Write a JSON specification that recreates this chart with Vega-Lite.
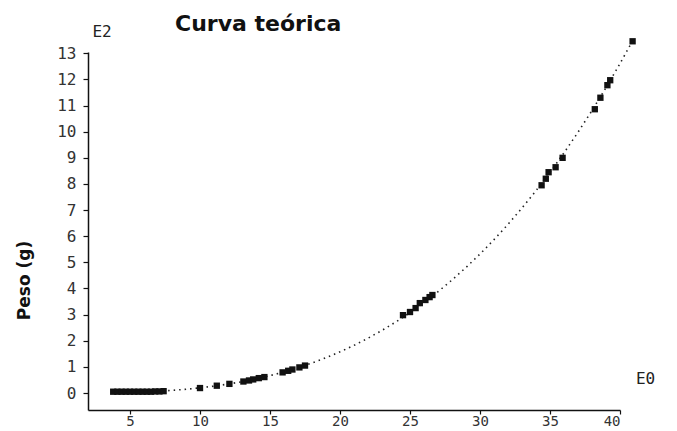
{
  "$schema": "https://vega.github.io/schema/vega-lite/v6.json",
  "width": 532,
  "height": 358,
  "autosize": "none",
  "padding": {"left": 88, "top": 52, "right": 57, "bottom": 21},
  "background": "white",
  "title": {
    "text": "Curva teórica",
    "anchor": "start",
    "frame": "group",
    "dx": 87,
    "offset": -12,
    "font": "DejaVu Sans",
    "fontSize": 22,
    "fontWeight": "bold",
    "color": "#111"
  },
  "config": {"view": {"stroke": null}},
  "datasets": {
    "curva": [
      {"longitud": 3.8, "peso": 0.0108},
      {"longitud": 4, "peso": 0.0126},
      {"longitud": 5, "peso": 0.0246},
      {"longitud": 6, "peso": 0.0426},
      {"longitud": 7, "peso": 0.0676},
      {"longitud": 8, "peso": 0.1009},
      {"longitud": 9, "peso": 0.1436},
      {"longitud": 10, "peso": 0.197},
      {"longitud": 11, "peso": 0.2622},
      {"longitud": 12, "peso": 0.3404},
      {"longitud": 13, "peso": 0.4328},
      {"longitud": 14, "peso": 0.5406},
      {"longitud": 15, "peso": 0.6649},
      {"longitud": 16, "peso": 0.8069},
      {"longitud": 17, "peso": 0.9679},
      {"longitud": 18, "peso": 1.1489},
      {"longitud": 19, "peso": 1.3512},
      {"longitud": 20, "peso": 1.576},
      {"longitud": 21, "peso": 1.8244},
      {"longitud": 22, "peso": 2.0977},
      {"longitud": 23, "peso": 2.3969},
      {"longitud": 24, "peso": 2.7233},
      {"longitud": 25, "peso": 3.0781},
      {"longitud": 26, "peso": 3.4625},
      {"longitud": 27, "peso": 3.8776},
      {"longitud": 28, "peso": 4.3245},
      {"longitud": 29, "peso": 4.8046},
      {"longitud": 30, "peso": 5.319},
      {"longitud": 31, "peso": 5.8688},
      {"longitud": 32, "peso": 6.4553},
      {"longitud": 33, "peso": 7.0796},
      {"longitud": 34, "peso": 7.7429},
      {"longitud": 35, "peso": 8.4464},
      {"longitud": 36, "peso": 9.1912},
      {"longitud": 37, "peso": 9.9786},
      {"longitud": 38, "peso": 10.8098},
      {"longitud": 39, "peso": 11.6858},
      {"longitud": 40, "peso": 12.608},
      {"longitud": 40.9, "peso": 13.48}
    ],
    "observados": [
      {"longitud": 3.8, "peso": 0.05},
      {"longitud": 4.1, "peso": 0.05},
      {"longitud": 4.4, "peso": 0.05},
      {"longitud": 4.7, "peso": 0.05},
      {"longitud": 5.0, "peso": 0.05},
      {"longitud": 5.3, "peso": 0.05},
      {"longitud": 5.6, "peso": 0.05},
      {"longitud": 5.9, "peso": 0.05},
      {"longitud": 6.2, "peso": 0.05},
      {"longitud": 6.5, "peso": 0.05},
      {"longitud": 6.8, "peso": 0.06},
      {"longitud": 7.1, "peso": 0.06},
      {"longitud": 7.4, "peso": 0.07},
      {"longitud": 10.0, "peso": 0.19},
      {"longitud": 11.2, "peso": 0.28},
      {"longitud": 12.1, "peso": 0.35},
      {"longitud": 13.1, "peso": 0.44},
      {"longitud": 13.5, "peso": 0.48},
      {"longitud": 13.8, "peso": 0.52},
      {"longitud": 14.2, "peso": 0.57},
      {"longitud": 14.6, "peso": 0.61},
      {"longitud": 15.9, "peso": 0.79},
      {"longitud": 16.3, "peso": 0.85},
      {"longitud": 16.6, "peso": 0.9},
      {"longitud": 17.1, "peso": 0.98},
      {"longitud": 17.5, "peso": 1.05},
      {"longitud": 24.5, "peso": 2.98},
      {"longitud": 25.0, "peso": 3.1},
      {"longitud": 25.4, "peso": 3.25},
      {"longitud": 25.7, "peso": 3.44},
      {"longitud": 26.1, "peso": 3.56},
      {"longitud": 26.4, "peso": 3.67},
      {"longitud": 26.6, "peso": 3.75},
      {"longitud": 34.4, "peso": 7.95},
      {"longitud": 34.7, "peso": 8.2},
      {"longitud": 34.9, "peso": 8.45},
      {"longitud": 35.4, "peso": 8.64},
      {"longitud": 35.9, "peso": 9.0},
      {"longitud": 38.2, "peso": 10.86},
      {"longitud": 38.6, "peso": 11.3},
      {"longitud": 39.1, "peso": 11.78},
      {"longitud": 39.3, "peso": 11.97},
      {"longitud": 40.9, "peso": 13.46}
    ],
    "exponentes": [
      {"longitud": 3.0, "peso": 13.8, "etiqueta": "E2"}
    ]
  },
  "encoding": {
    "x": {
      "field": "longitud",
      "type": "quantitative",
      "scale": {"domain": [2, 40], "nice": false, "zero": false},
      "axis": {
        "values": [5, 10, 15, 20, 25, 30, 35, 40],
        "format": "d",
        "grid": false,
        "labelOverlap": false,
        "title": "E0",
        "titleFont": "DejaVu Sans Mono",
        "titleFontSize": 16,
        "titleFontWeight": "normal",
        "titleColor": "#222",
        "titleX": 557,
        "titleY": -32,
        "titleAlign": "center",
        "titleBaseline": "middle",
        "labelFont": "DejaVu Sans Mono",
        "labelFontSize": 14,
        "labelColor": "#333",
        "labelPadding": 0,
        "tickSize": 4,
        "tickColor": "#111",
        "tickWidth": 1.2,
        "domainColor": "#111",
        "domainWidth": 1.5
      }
    },
    "y": {
      "field": "peso",
      "type": "quantitative",
      "scale": {"domain": [-0.65, 13.05], "nice": false, "zero": false},
      "axis": {
        "values": [0, 1, 2, 3, 4, 5, 6, 7, 8, 9, 10, 11, 12, 13],
        "format": "d",
        "grid": false,
        "labelOverlap": false,
        "labelFlush": false,
        "title": "Peso (g)",
        "titleFont": "DejaVu Sans",
        "titleFontSize": 17,
        "titleFontWeight": "bold",
        "titleColor": "#111",
        "titleAngle": 270,
        "titleX": -64,
        "titleY": 228,
        "titleAlign": "center",
        "titleBaseline": "middle",
        "labelFont": "DejaVu Sans Mono",
        "labelFontSize": 16,
        "labelColor": "#333",
        "labelPadding": 7,
        "tickSize": 5,
        "tickColor": "#111",
        "tickWidth": 1.2,
        "domainColor": "#111",
        "domainWidth": 1.5
      }
    }
  },
  "layer": [
    {
      "data": {"name": "curva"},
      "mark": {"type": "line", "color": "#222", "strokeWidth": 1.6, "strokeDash": [1.5, 4], "clip": false}
    },
    {
      "data": {"name": "observados"},
      "mark": {"type": "square", "filled": true, "color": "#111", "size": 40, "opacity": 1, "clip": false}
    },
    {
      "data": {"name": "exponentes"},
      "mark": {"type": "text", "font": "DejaVu Sans Mono", "fontSize": 16, "color": "#222", "align": "center", "baseline": "middle", "clip": false},
      "encoding": {
        "text": {"field": "etiqueta", "type": "nominal"}
      }
    }
  ]
}
